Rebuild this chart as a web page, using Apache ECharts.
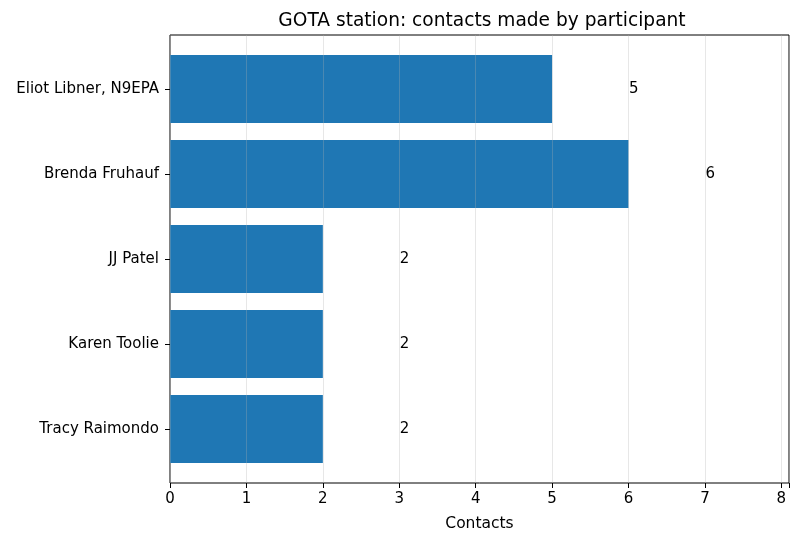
<!DOCTYPE html>
<html>
<head>
<meta charset="utf-8">
<script src="https://cdn.jsdelivr.net/npm/echarts@6/dist/echarts.min.js"></script>
<style>
  html, body { margin: 0; padding: 0; background: #fff; }
  #chart { width: 800px; height: 542px; }
</style>
</head>
<body>
<div id="chart"></div>
<script>
// contacts per GOTA participant
const participants = ["Eliot Libner, N9EPA", "Brenda Fruhauf", "JJ Patel", "Karen Toolie", "Tracy Raimondo"];
const contacts = [5, 6, 2, 2, 2];
const xTicks = [0, 1, 2, 3, 4, 5, 6, 7, 8];

const font = "'DejaVu Sans', sans-serif";
const xMax = 8.1;

let myChart = echarts.init(document.getElementById("chart"));

let option = {
    animation: false,
    title: {
        text: "GOTA station: contacts made by participant",
        left: 477,
        top: 7,
        textAlign: "center",
        textStyle: { fontFamily: font, fontSize: 18.6, fontWeight: "normal", color: "#000" }
    },
    grid: [
        // frame + x axis
        { left: 170, right: 11, top: 35, bottom: 59, show: true, borderColor: "#000", borderWidth: 1, backgroundColor: "transparent" },
        // bars, with matplotlib-like padding
        { left: 170, right: 11, top: 46.5, bottom: 70.5 }
    ],
    xAxis: [
        {
            gridIndex: 0, type: "value", min: 0, max: xMax, interval: 1, z: 5,
            name: "Contacts", nameLocation: "middle", nameGap: 33,
            nameTextStyle: { fontFamily: font, fontSize: 15.5, color: "#000" },
            axisLine: { show: false },
            axisTick: { show: true, length: 5, inside: false, lineStyle: { color: "#000" } },
            axisLabel: {
                fontFamily: font, fontSize: 15, color: "#000", margin: 9,
                formatter: v => xTicks.includes(v) ? String(v) : ""
            },
            splitLine: { show: true, lineStyle: { color: "rgba(176,176,176,0.3)", width: 1 } }
        },
        {
            gridIndex: 1, type: "value", min: 0, max: xMax, show: false
        }
    ],
    yAxis: [
        { gridIndex: 0, type: "value", show: false, splitLine: { show: false } },
        {
            gridIndex: 1, type: "category", inverse: true, data: participants,
            axisLine: { show: false },
            axisTick: { show: true, alignWithLabel: true, length: 5, lineStyle: { color: "#000" } },
            axisLabel: { fontFamily: font, fontSize: 15, color: "#000", margin: 11 },
            splitLine: { show: false }
        }
    ],
    series: [
        {
            type: "bar",
            xAxisIndex: 1,
            yAxisIndex: 1,
            data: contacts,
            barWidth: "80%",
            itemStyle: { color: "#1f77b4" },
            label: {
                show: true,
                position: "right",
                distance: 77,
                fontFamily: font,
                fontSize: 15,
                color: "#000"
            }
        }
    ]
};

myChart.setOption(option);
</script>
</body>
</html>
